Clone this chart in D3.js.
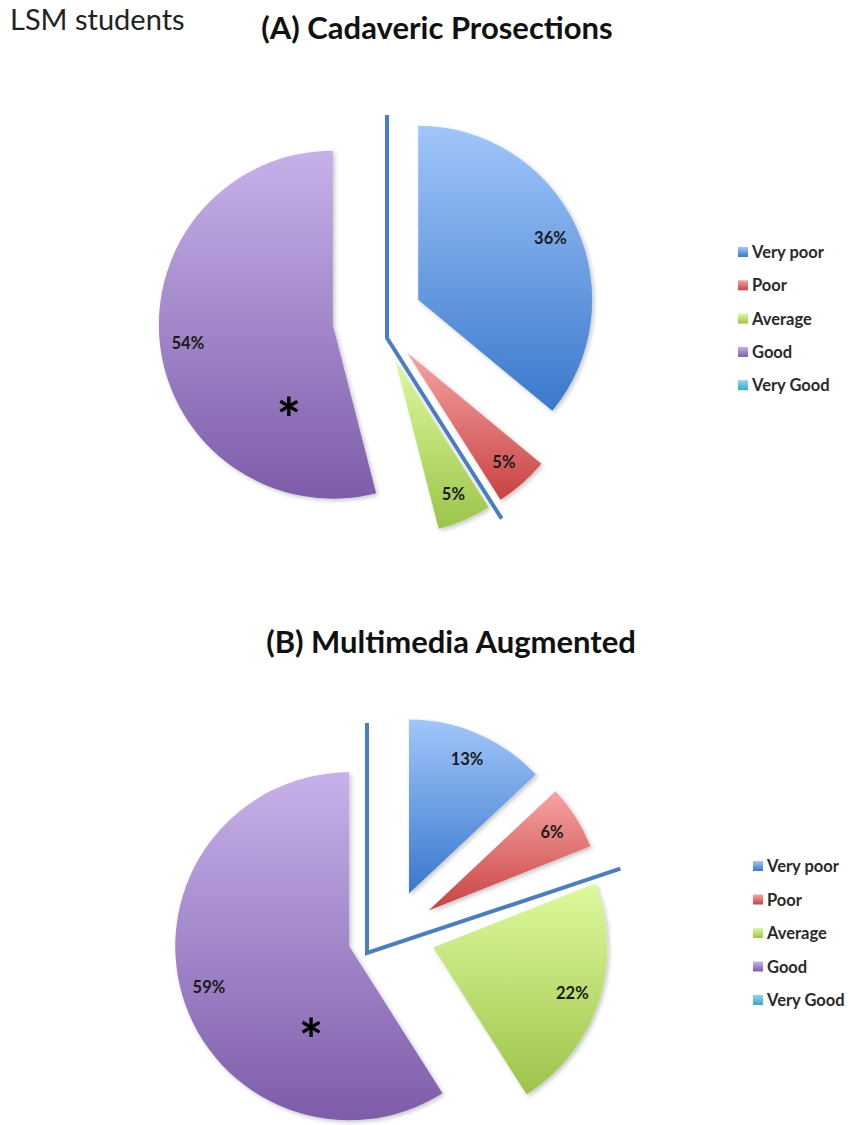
<!DOCTYPE html>
<html>
<head>
<meta charset="utf-8">
<script src="https://cdn.jsdelivr.net/npm/d3@7"></script>
<style>
  html, body { margin: 0; padding: 0; background: #fff; }
  svg { display: block; }
</style>
</head>
<body>
<svg id="chart" width="849" height="1125"></svg>
<script>
// Rating categories shared by both pies
const categories = ["Very poor", "Poor", "Average", "Good", "Very Good"];
// Percent of LSM students giving each rating
const valuesCadaveric = [36, 5, 5, 54, 0];
const valuesMultimedia = [13, 6, 22, 59, 0];
// Gradient stops per category (light top, dark bottom)
const colorTop = ["#a0c6fa", "#f7a3a3", "#def99d", "#c7b1ea", "#8fd6ea"];
const colorBottom = ["#3a78cc", "#c84343", "#9cc44a", "#7d5ca9", "#3aa8c8"];

const svg = d3.select("#chart");
const font = "Lato, 'Open Sans', sans-serif";

const defs = svg.append("defs");
categories.forEach((c, i) => {
  const g = defs.append("linearGradient")
    .attr("id", "grad" + i)
    .attr("x1", 0).attr("y1", 0).attr("x2", 0).attr("y2", 1);
  g.append("stop").attr("offset", "0%").attr("stop-color", colorTop[i]);
  g.append("stop").attr("offset", "100%").attr("stop-color", colorBottom[i]);
});
const shadow = defs.append("filter").attr("id", "shadow")
  .attr("x", "-20%").attr("y", "-20%").attr("width", "140%").attr("height", "140%");
shadow.append("feDropShadow")
  .attr("dx", 2).attr("dy", 2).attr("stdDeviation", 2)
  .attr("flood-color", "#000").attr("flood-opacity", 0.22);

svg.append("text")
  .attr("x", 10).attr("y", 30)
  .attr("font-family", font).attr("font-size", 29)
  .attr("fill", "#222")
  .text("LSM students");

const color = d3.scaleOrdinal().domain(categories).range(d3.range(categories.length).map(i => `url(#grad${i})`));

function drawPie(cfg) {
  const g = svg.append("g");
  g.append("text")
    .attr("x", cfg.titleX).attr("y", cfg.titleY)
    .attr("text-anchor", "middle")
    .attr("font-family", font).attr("font-weight", 700).attr("font-size", 31)
    .attr("fill", "#111")
    .text(cfg.title);

  const pie = d3.pie().sort(null).value(d => d.value);
  const arcs = pie(cfg.values.map((v, i) => ({ cat: categories[i], value: v })))
    .filter(a => a.data.value > 0);
  const arc = d3.arc().innerRadius(0).outerRadius(cfg.r);

  const slices = g.append("g")
    .attr("transform", `translate(${cfg.cx},${cfg.cy})`);

  arcs.forEach(a => {
    const mid = (a.startAngle + a.endAngle) / 2;
    const ox = cfg.explode * Math.sin(mid);
    const oy = -cfg.explode * Math.cos(mid);
    const sg = slices.append("g").attr("transform", `translate(${ox},${oy})`);
    sg.append("path")
      .attr("d", arc(a))
      .attr("fill", color(a.data.cat))
      .attr("filter", "url(#shadow)");
    const lr = cfg.r * cfg.labelFrac;
    sg.append("text")
      .attr("x", lr * Math.sin(mid))
      .attr("y", -lr * Math.cos(mid))
      .attr("text-anchor", "middle")
      .attr("dominant-baseline", "central")
      .attr("font-family", font).attr("font-weight", 700).attr("font-size", 16.5)
      .attr("fill", "#1a1a1a")
      .text(a.data.value + "%");
    if (a.data.cat === cfg.starred) {
      const sr = cfg.r * cfg.starFrac;
      const sa = cfg.starAngle * Math.PI / 180;
      sg.append("text")
        .attr("x", sr * Math.sin(sa))
        .attr("y", -sr * Math.cos(sa))
        .attr("dy", "0.56em")
        .attr("text-anchor", "middle")
        .attr("font-family", font).attr("font-weight", 700).attr("font-size", 58)
        .attr("fill", "#000")
        .text("*");
    }
  });

  // Separator between the Very poor/Poor group and the Average/Good group
  const boundary = d3.sum(cfg.values.slice(0, 2)) / d3.sum(cfg.values) * 360 + cfg.sepTilt;
  const ba = boundary * Math.PI / 180;
  const vx = cfg.cx + cfg.sepDx, vy = cfg.cy + cfg.sepDy;
  g.append("path")
    .attr("d", d3.line()([
      [vx, vy - cfg.sepUp],
      [vx, vy],
      [vx + cfg.sepLen * Math.sin(ba), vy - cfg.sepLen * Math.cos(ba)]
    ]))
    .attr("fill", "none")
    .attr("stroke", "#4a7ec4")
    .attr("stroke-width", 4)
    .attr("stroke-linejoin", "miter");

  // Legend
  const lg = g.append("g");
  const rows = lg.selectAll("g").data(categories).join("g")
    .attr("transform", (d, i) => `translate(${cfg.legX},${cfg.legY + i * cfg.legStep})`);
  rows.append("rect")
    .attr("x", 0).attr("y", -5).attr("width", 10).attr("height", 10)
    .attr("fill", d => color(d));
  rows.append("text")
    .attr("x", 14).attr("y", 0)
    .attr("dominant-baseline", "central")
    .attr("font-family", font).attr("font-weight", 700).attr("font-size", 16.5)
    .attr("fill", "#2a2a2a")
    .text(d => d);
}

drawPie({
  title: "(A) Cadaveric Prosections", titleX: 437, titleY: 39,
  values: valuesCadaveric, cx: 377.5, cy: 319, r: 174, explode: 45,
  labelFrac: 0.84, starred: "Good", starAngle: 208, starFrac: 0.54,
  sepDx: 9.5, sepDy: 19, sepUp: 223, sepLen: 214, sepTilt: 0,
  legX: 738, legY: 252, legStep: 33.3
});

drawPie({
  title: "(B) Multimedia Augmented", titleX: 451, titleY: 653,
  values: valuesMultimedia, cx: 391.5, cy: 934, r: 174, explode: 44,
  labelFrac: 0.84, starred: "Good", starAngle: 205, starFrac: 0.52,
  sepDx: -24.5, sepDy: 19, sepUp: 230, sepLen: 267, sepTilt: 3.2,
  legX: 753, legY: 866, legStep: 33.5
});
</script>
</body>
</html>
